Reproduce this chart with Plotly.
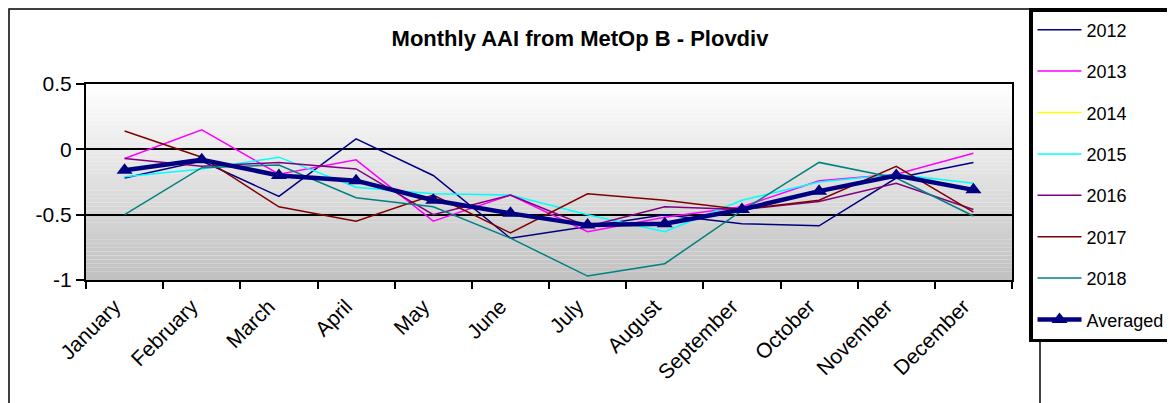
import plotly.graph_objects as go

months = ["January", "February", "March", "April", "May", "June", "July",
          "August", "September", "October", "November", "December"]

y2012 = [-0.22, -0.09, -0.36, 0.08, -0.20, -0.68, -0.59, -0.50, -0.57, -0.585, -0.22, -0.10]
y2013 = [-0.07, 0.15, -0.19, -0.08, -0.55, -0.35, -0.63, -0.52, -0.44, -0.24, -0.19, -0.03]
y2014 = [None] * 12
y2015 = [-0.21, -0.15, -0.06, -0.29, -0.34, -0.35, -0.50, -0.63, -0.39, -0.25, -0.19, -0.26]
y2016 = [-0.07, -0.13, -0.10, -0.15, -0.50, -0.35, -0.59, -0.44, -0.46, -0.40, -0.26, -0.46]
y2017 = [0.14, -0.06, -0.44, -0.55, -0.35, -0.64, -0.34, -0.39, -0.46, -0.39, -0.13, -0.48]
y2018 = [-0.50, -0.14, -0.12, -0.37, -0.44, -0.68, -0.97, -0.875, -0.47, -0.10, -0.22, -0.51]
averaged = [-0.16, -0.08, -0.20, -0.24, -0.39, -0.49, -0.58, -0.57, -0.46, -0.32, -0.20, -0.31]

series = [
    ("2012", y2012, "#000080"),
    ("2013", y2013, "#FF00FF"),
    ("2014", y2014, "#FFFF00"),
    ("2015", y2015, "#00FFFF"),
    ("2016", y2016, "#800080"),
    ("2017", y2017, "#800000"),
    ("2018", y2018, "#008080"),
]

fig = go.Figure()
for name, vals, color in series:
    fig.add_trace(go.Scatter(
        x=months, y=vals, mode="lines", name=name, legendgroup=name,
        line=dict(color=color, width=1.5),
    ))
fig.add_trace(go.Scatter(
    x=months, y=averaged, mode="lines+markers", name="Averaged", legendgroup="avg",
    line=dict(color="#000080", width=4.5),
    marker=dict(symbol="triangle-up", size=14, color="#000080"),
))

# plot area gradient (white -> light grey), drawn as thin strips
n = 48
for i in range(n):
    t = (i + 0.5) / n
    c = int(round(255 - (255 - 192) * t))
    fig.add_shape(type="rect", xref="x domain", yref="y domain",
                  x0=0, x1=1, y0=1 - (i + 1) / n, y1=1 - i / n,
                  fillcolor=f"rgb({c},{c},{c})", line_width=0, layer="below")

# page has an 8px body margin, so the figure is laid out 8px smaller
OFF = 8
W, H = 1175 - OFF, 403 - OFF
L, T = 86 - OFF, 84 - OFF
R, B = W - (1012 - OFF), H - (280 - OFF)
pw, ph = W - L - R, H - T - B


def px_x(p):
    return (p - OFF - L) / pw


def px_y(p):
    return (H - B - (p - OFF)) / ph


# outer chart-area frame
fig.add_shape(type="rect", xref="paper", yref="paper",
              x0=px_x(9), x1=px_x(1040), y0=px_y(430), y1=px_y(9),
              line=dict(color="black", width=1.5), fillcolor="rgba(0,0,0,0)")

fig.update_layout(
    width=W, height=H,
    margin=dict(l=L, r=R, t=T, b=B, autoexpand=False),
    paper_bgcolor="white",
    plot_bgcolor="rgba(0,0,0,0)",
    font=dict(family="Arial, Liberation Sans, sans-serif", color="black"),
    title=dict(text="<b>Monthly AAI from MetOp B - Plovdiv</b>",
               font=dict(size=22), xref="paper", x=px_x(580), xanchor="center",
               yref="container", y=1 - (38 - OFF) / H, yanchor="middle"),
    legend=dict(
        xref="paper", x=px_x(1029), xanchor="left",
        yref="container", y=1, yanchor="top",
        bgcolor="white", bordercolor="black", borderwidth=3.5,
        font=dict(size=18), tracegroupgap=15, itemwidth=44, maxheight=1,
    ),
    showlegend=True,
)
fig.update_xaxes(
    type="category", range=[-0.5, 11.5], tickson="boundaries",
    ticks="outside", ticklen=7, tickcolor="black", tickwidth=1.5,
    tickangle=-45, tickfont=dict(size=21), ticklabelshift=-10, ticklabelstandoff=4,
    showline=True, linecolor="black", linewidth=2, mirror=True, showgrid=False,
)
fig.update_yaxes(
    range=[-1, 0.5], tickvals=[-1, -0.5, 0, 0.5],
    ticktext=["-1", "-0.5", "0", "0.5"],
    ticks="outside", ticklen=8, tickcolor="black", tickwidth=1.5,
    tickfont=dict(size=21), showline=True, linecolor="black", linewidth=2,
    mirror=True, showgrid=True, gridcolor="black", gridwidth=1.5, zeroline=False,
)

fig.write_html("out.html")
